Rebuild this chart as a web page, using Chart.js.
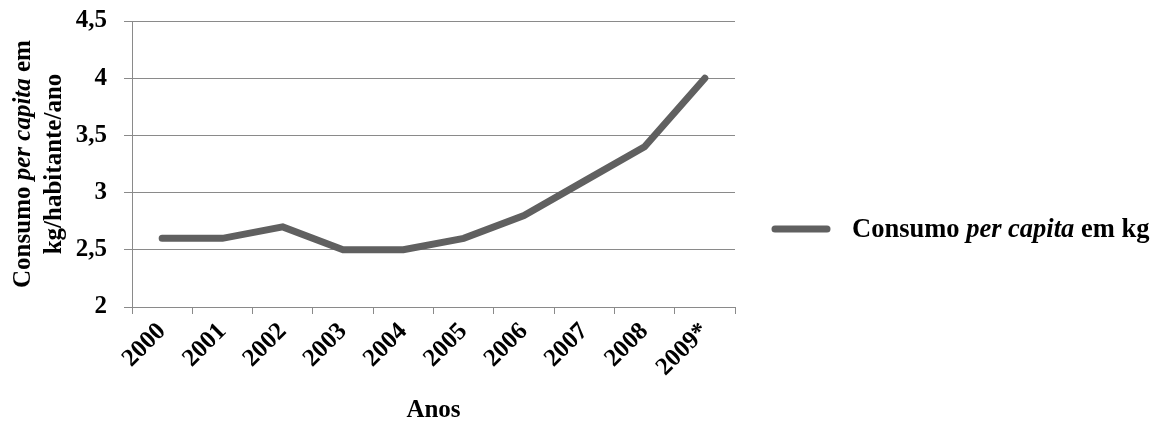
<!DOCTYPE html>
<html>
<head>
<meta charset="utf-8">
<script src="https://cdn.jsdelivr.net/npm/chart.js@4.4.0/dist/chart.umd.min.js"></script>
<style>
  html, body { margin: 0; padding: 0; background: #ffffff; }
  #wrap { width: 1161px; height: 427px; }
</style>
</head>
<body>
<div id="wrap"><canvas id="grafico" width="1161" height="427"></canvas></div>
<script>
// Consumo per capita (kg/habitante/ano)
const anos = ['2000', '2001', '2002', '2003', '2004', '2005', '2006', '2007', '2008', '2009*'];
const consumo = [2.6, 2.6, 2.7, 2.5, 2.5, 2.6, 2.8, 3.1, 3.4, 4.0];
const eixoY = { min: 2, max: 4.5, passo: 0.5 };

// Text pieces: [text, italic]
const tituloY1 = [['Consumo ', false], ['per capita', true], [' em', false]];
const tituloY2 = [['kg/habitante/ano', false]];
const tituloX = 'Anos';
const legendaTexto = [['Consumo ', false], ['per capita', true], [' em kg', false]];

const FAMILIA = '"Liberation Serif", "Times New Roman", serif';
const TAM = 25;
const TAM_LEGENDA = 26.5;
const COR_LINHA = '#606060';
const COR_GRADE = '#8a8a8a';

function fonte(italico, tam) {
  return (italico ? 'italic ' : '') + 'bold ' + (tam || TAM) + 'px ' + FAMILIA;
}

function larguraPartes(ctx, partes, tam) {
  let w = 0;
  for (const [t, it] of partes) { ctx.font = fonte(it, tam); w += ctx.measureText(t).width; }
  return w;
}

function desenhaPartes(ctx, partes, x, y, tam) {
  let cx = x;
  ctx.textAlign = 'left';
  for (const [t, it] of partes) {
    ctx.font = fonte(it, tam);
    ctx.fillText(t, cx, y);
    cx += ctx.measureText(t).width;
  }
}

// Axis titles and legend drawn with mixed bold / bold-italic runs
const textosExtras = {
  id: 'textosExtras',
  afterDraw(chart) {
    const ctx = chart.ctx;
    const area = chart.chartArea;
    ctx.save();
    ctx.fillStyle = '#000000';
    ctx.textBaseline = 'middle';

    // Y axis title, two rotated lines
    const cy = (area.top + area.bottom) / 2;
    [[tituloY1, 24], [tituloY2, 55]].forEach(([partes, x]) => {
      ctx.save();
      ctx.translate(x, cy);
      ctx.rotate(-Math.PI / 2);
      const w = larguraPartes(ctx, partes);
      desenhaPartes(ctx, partes, -w / 2, 0);
      ctx.restore();
    });

    // X axis title
    ctx.font = fonte(false);
    ctx.textAlign = 'center';
    ctx.fillText(tituloX, (area.left + area.right) / 2, 411);

    // Legend
    const ly = 229;
    ctx.strokeStyle = COR_LINHA;
    ctx.lineWidth = 7;
    ctx.lineCap = 'round';
    ctx.beginPath();
    ctx.moveTo(775, ly);
    ctx.lineTo(827, ly);
    ctx.stroke();
    desenhaPartes(ctx, legendaTexto, 852, ly + 1, TAM_LEGENDA);
    ctx.restore();
  }
};

new Chart(document.getElementById('grafico'), {
  type: 'line',
  data: {
    labels: anos,
    datasets: [{
      label: 'Consumo per capita em kg',
      data: consumo,
      borderColor: COR_LINHA,
      backgroundColor: COR_LINHA,
      borderWidth: 7,
      borderCapStyle: 'round',
      borderJoinStyle: 'miter',
      pointRadius: 0,
      pointHoverRadius: 0,
      tension: 0,
      fill: false
    }]
  },
  options: {
    responsive: false,
    animation: false,
    devicePixelRatio: 1,
    layout: { padding: { top: 21, right: 426, bottom: 0, left: 0 } },
    plugins: {
      legend: { display: false },
      tooltip: { enabled: false },
      title: { display: false }
    },
    scales: {
      x: {
        type: 'category',
        offset: true,
        afterFit(s) { s.height = 120; },
        grid: {
          offset: true,
          drawOnChartArea: false,
          drawTicks: true,
          tickLength: 7,
          color: COR_GRADE,
          lineWidth: 1
        },
        border: { display: true, color: COR_GRADE, width: 1 },
        ticks: {
          minRotation: 45,
          maxRotation: 45,
          autoSkip: false,
          padding: 3,
          color: '#000000',
          font: { family: FAMILIA, size: TAM, weight: 'bold' }
        }
      },
      y: {
        min: eixoY.min,
        max: eixoY.max,
        afterFit(s) { s.width = 132; s.paddingTop = 0; s.paddingBottom = 0; },
        grid: {
          color: COR_GRADE,
          lineWidth: 1,
          drawTicks: true,
          tickLength: 8
        },
        border: { display: true, color: COR_GRADE, width: 1 },
        ticks: {
          stepSize: eixoY.passo,
          padding: 17,
          color: '#000000',
          font: { family: FAMILIA, size: TAM, weight: 'bold', lineHeight: 0.5 },
          callback: (v) => String(v).replace('.', ',')
        }
      }
    }
  },
  plugins: [textosExtras]
});
</script>
</body>
</html>
